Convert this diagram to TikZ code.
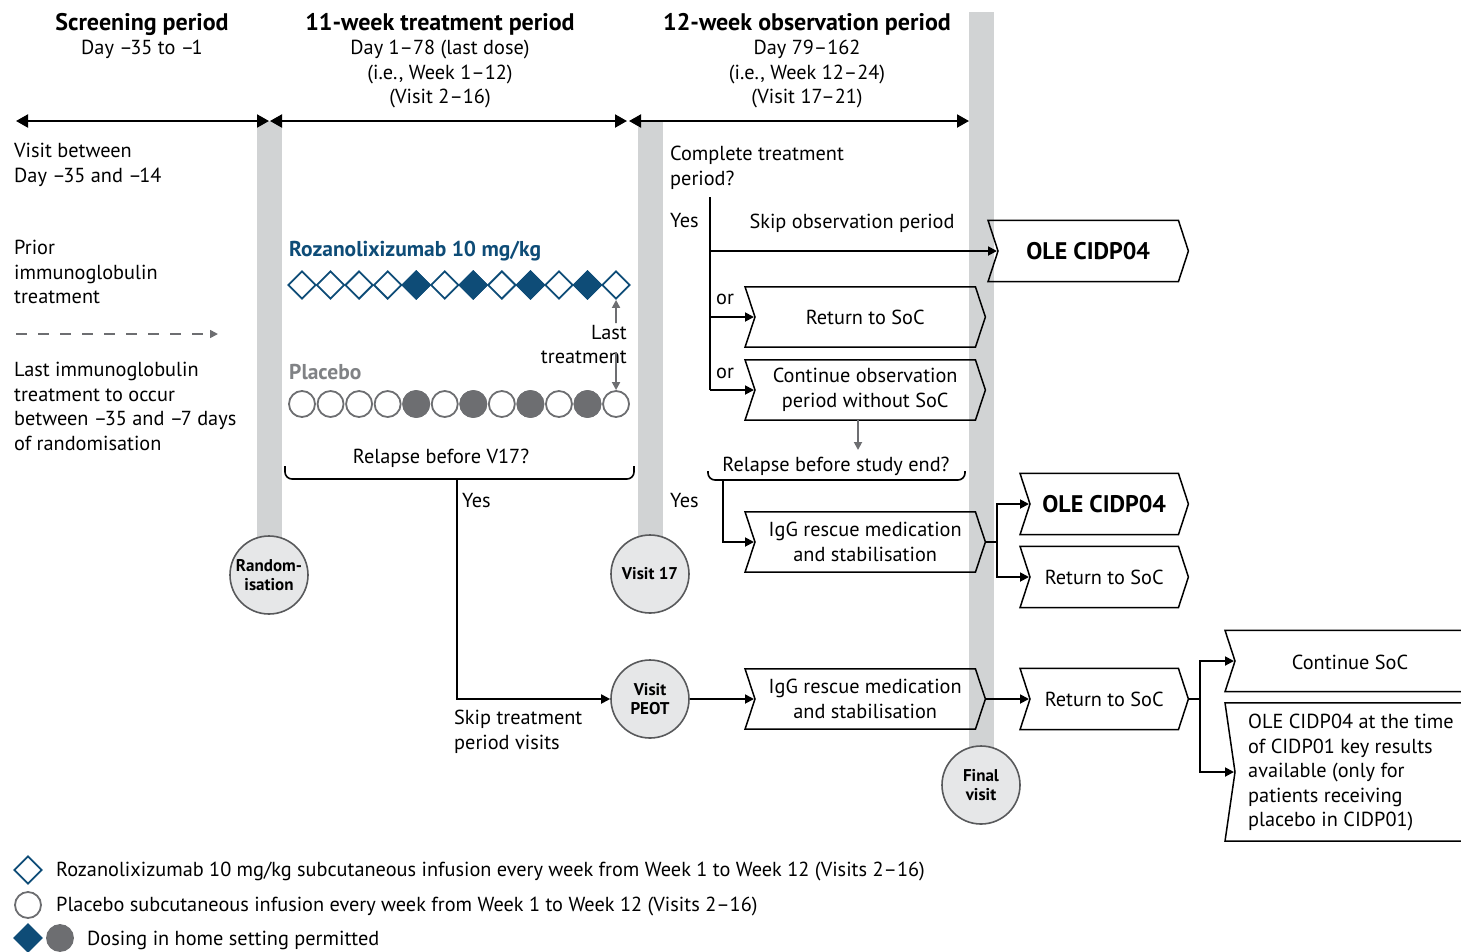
\documentclass[tikz,border=0pt]{standalone}
\usepackage{fontspec}
\setmainfont{PT Sans}
\usetikzlibrary{arrows.meta,calc,shapes.geometric}
\definecolor{barc}{HTML}{D1D3D4}
\definecolor{circfill}{HTML}{E6E7E8}
\definecolor{circline}{HTML}{58595B}
\definecolor{roza}{HTML}{0E4C77}
\definecolor{plac}{HTML}{6D6E71}
\definecolor{plactext}{HTML}{808285}
\newcommand\mneg{–\kern-2.5pt}
\newcommand\drawchev[1]{\draw[chevline] (#1.north west) -- ([xshift=-10pt]#1.north east) -- (#1.east) -- ([xshift=-10pt]#1.south east) -- (#1.south west) -- ([xshift=10pt]#1.west) -- cycle;}
\newcommand\drawopenchev[1]{\draw[chevline] (#1.north east) -- (#1.north west) -- ([xshift=10pt]#1.west) -- (#1.south west) -- (#1.south east);}
\tikzset{
  body/.style={font=\fontsize{20.3}{24.5}\selectfont},
  txt/.style={body, inner sep=0pt, align=left, anchor=north west},
  ctxt/.style={body, inner sep=0pt, align=center},
  hdr/.style={font=\fontsize{24}{26}\selectfont\bfseries, inner sep=0pt},
  boldbox/.style={font=\fontsize{24}{26}\selectfont\bfseries},
  tl/.style={line width=2pt, {Triangle[length=12pt,width=13pt]}-{Triangle[length=12pt,width=13pt]}},
  conn/.style={line width=1.8pt, -{Triangle[length=9pt,width=9pt]}},
  plain/.style={line width=1.8pt},
  garrow/.style={plac, line width=1.8pt, -{Triangle[length=8pt,width=8pt]}},
  visit/.style={circle, fill=circfill, draw=circline, line width=1.6pt, minimum size=78pt, inner sep=0pt, align=center, font=\fontsize{17}{19.5}\selectfont\bfseries},
  dia/.style={diamond, draw=roza, line width=1.8pt, minimum width=28pt, minimum height=28pt, inner sep=0pt},
  pc/.style={circle, draw=plac, line width=1.8pt, minimum size=26pt, inner sep=0pt},
  chevbox/.style={body, inner sep=0pt, align=center, anchor=west, minimum height=60pt},
  chevline/.style={draw=black, line width=1.5pt, line join=miter},
  bracket/.style={line width=1.6pt, rounded corners=7pt},
}
\begin{document}
\begin{tikzpicture}[x=1pt,y=-1pt]
\useasboundingbox (0,0) rectangle (1461,951);
% gray bars
\fill[barc] (257,121) rectangle (282,545);
\fill[barc] (638,121) rectangle (663,545);
\fill[barc] (969,12) rectangle (994,755);
% headers
\node[hdr] (h1) at (142,24) {Screening period};
\node[ctxt, anchor=north] (h1s) at (142,40) {Day \mneg35 to \mneg1};
\node[hdr] (h2) at (440,24) {11-week treatment period};
\node[ctxt, anchor=north] (h2s) at (440,40) {Day 1–78 (last dose)\\(i.e., Week 1–12)\\(Visit 2–16)};
\node[hdr] (h3) at (807,24) {12-week observation period};
\node[ctxt, anchor=north] (h3s) at (807,40) {Day 79–162\\(i.e., Week 12–24)\\(Visit 17–21)};
% timelines
\coordinate (t1a) at (16,121); \coordinate (t1b) at (269,121);
\coordinate (t2a) at (270,121); \coordinate (t2b) at (627,121);
\coordinate (t3a) at (629,121); \coordinate (t3b) at (969,121);
\draw[tl] (t1a) -- (t1b);
\draw[tl] (t2a) -- (t2b);
\draw[tl] (t3a) -- (t3b);
% left texts
\node[txt] (vb) at (14,143) {Visit between\\Day \mneg35 and \mneg14};
\node[txt] (prior) at (14,240) {Prior\\immunoglobulin\\treatment};
\coordinate (da1) at (16,334); \coordinate (da2) at (218,334);
\draw[plac, line width=1.6pt, dash pattern=on 11pt off 11pt, -{Triangle[length=8pt,width=8pt]}] (da1) -- (da2);
\node[txt] (lastig) at (14,362) {Last immunoglobulin\\treatment to occur\\between \mneg35 and \mneg7 days\\of randomisation};
% treatment
\node[anchor=west, inner sep=0pt, font=\fontsize{21.5}{24}\selectfont\bfseries, text=roza] (rozl) at (289,251) {Rozanolixizumab 10 mg/kg};
\node[anchor=west, inner sep=0pt, font=\fontsize{21.5}{24}\selectfont\bfseries, text=plactext] (placl) at (289,372) {Placebo};
\foreach \i in {0,...,11}{
  \pgfmathsetmacro\xx{302+28.55*\i}
  \node[dia] (d\i) at (\xx,285) {};
  \node[pc] (p\i) at (\xx,404) {};
}
\foreach \i in {4,6,8,10}{
  \node[dia, fill=roza] at (d\i) {};
  \node[pc, fill=plac] at (p\i) {};
}
\node[ctxt, align=right, anchor=north east] (lt) at (627,325) {Last\\treatment};
\coordinate (lt1) at (616,323);
\coordinate (lt2) at (616,352);
\draw[garrow] (lt1) -- (d11.south);
\draw[garrow] (lt2) -- (p11.north);
% relapse before V17
\node[ctxt] (rv17) at (441,458) {Relapse before V17?};
\draw[bracket] (285,466) -- (285,479) -- (634,479) -- (634,466);
\coordinate (br1) at (457,479);
\node[txt] (yes1) at (462,493) {Yes};
% visits
\node[visit] (rand) at (269,575) {Random-\\isation};
\node[visit] (v17) at (650,574) {Visit 17};
\node[visit] (peot) at (650,699) {Visit\\PEOT};
\node[visit] (final) at (981,785) {Final\\visit};
\draw[conn] (br1) |- (peot);
\node[txt] (skiptp) at (454,710) {Skip treatment\\period visits};
% observation
\node[txt] (ctp) at (670,146) {Complete treatment\\period?};
\coordinate (cv) at (710,197);
\node[txt] (yes2) at (670,213) {Yes};
\node[ctxt] (skipop) at (852,223) {Skip observation period};
\node[chevbox, minimum width=200pt, minimum height=61pt, boldbox] (ole1) at (988,251) {OLE CIDP04};
\drawchev{ole1}
\node[chevbox, minimum width=240pt] (ret1) at (745,317) {Return to SoC};
\drawchev{ret1}
\node[chevbox, minimum width=240pt] (cont1) at (745,390) {Continue observation\\period without SoC};
\drawchev{cont1}
\draw[plain] (cv) -- (cv |- cont1);
\draw[conn] (cv |- ole1) -- ([xshift=9pt]ole1.west);
\draw[conn] (cv |- ret1) -- ([xshift=9pt]ret1.west);
\draw[conn] (cv |- cont1) -- ([xshift=9pt]cont1.west);
\node[txt] (or1) at (716,294) {or};
\node[txt] (or2) at (716,368) {or};
\coordinate (rb) at (858,450);
\draw[garrow] (cont1.south -| rb) -- (rb);
\node[ctxt] (rbse) at (836,466) {Relapse before study end?};
\draw[bracket] (708,471) -- (708,480) -- (965,480) -- (965,471);
\coordinate (br2) at (723,480);
\node[txt] (yes3) at (670,493) {Yes};
\node[chevbox, minimum width=240pt] (igg1) at (745,542) {IgG rescue medication\\and stabilisation};
\drawchev{igg1}
\draw[conn] (br2) |- ([xshift=9pt]igg1.west);
\node[chevbox, minimum width=168pt, minimum height=61pt, boldbox] (ole2) at (1020,504) {OLE CIDP04};
\drawchev{ole2}
\node[chevbox, minimum width=168pt, minimum height=61pt] (ret2) at (1020,577) {Return to SoC};
\drawchev{ret2}
\coordinate (sp1) at (997,542);
\draw[plain] (igg1.east) -- (sp1);
\draw[conn] (sp1) |- ([xshift=9pt]ole2.west);
\draw[conn] (sp1) |- ([xshift=9pt]ret2.west);
% bottom row
\node[chevbox, minimum width=240pt] (igg2) at (745,699) {IgG rescue medication\\and stabilisation};
\drawchev{igg2}
\draw[conn] (peot) -- ([xshift=9pt]igg2.west);
\node[chevbox, minimum width=168pt, minimum height=61pt] (ret3) at (1020,699) {Return to SoC};
\drawchev{ret3}
\draw[conn] (igg2.east) -- ([xshift=9pt]ret3.west);
\node[chevbox, minimum width=250pt, minimum height=61pt] (csoc) at (1225,661) {};
\drawopenchev{csoc}
\node[ctxt] (csoct) at (1350,662) {Continue SoC};
\node[chevbox, minimum width=250pt, minimum height=138pt] (ole3) at (1225,772) {};
\drawopenchev{ole3}
\node[txt] (ole3t) at (1248,714) {OLE CIDP04 at the time\\of CIDP01 key results\\available (only for\\patients receiving\\placebo in CIDP01)};
\coordinate (sp2) at (1200,699);
\draw[plain] (ret3.east) -- (sp2);
\draw[conn] (sp2) |- ([xshift=9pt]csoc.west);
\draw[conn] (sp2) |- ([xshift=9pt]ole3.west);
% legend
\node[dia] (lg1) at (28,870) {};
\node[body, anchor=west, inner sep=0pt] (lg1t) at (56,871) {Rozanolixizumab 10 mg/kg subcutaneous infusion every week from Week 1 to Week 12 (Visits 2–16)};
\node[pc] (lg2) at (28,905) {};
\node[body, anchor=west, inner sep=0pt] (lg2t) at (56,906) {Placebo subcutaneous infusion every week from Week 1 to Week 12 (Visits 2–16)};
\node[dia, fill=roza] (lg3) at (28,938) {};
\node[pc, fill=plac] (lg4) at (60,938) {};
\node[body, anchor=west, inner sep=0pt] (lg3t) at (87,940) {Dosing in home setting permitted};
\end{tikzpicture}
\end{document}
